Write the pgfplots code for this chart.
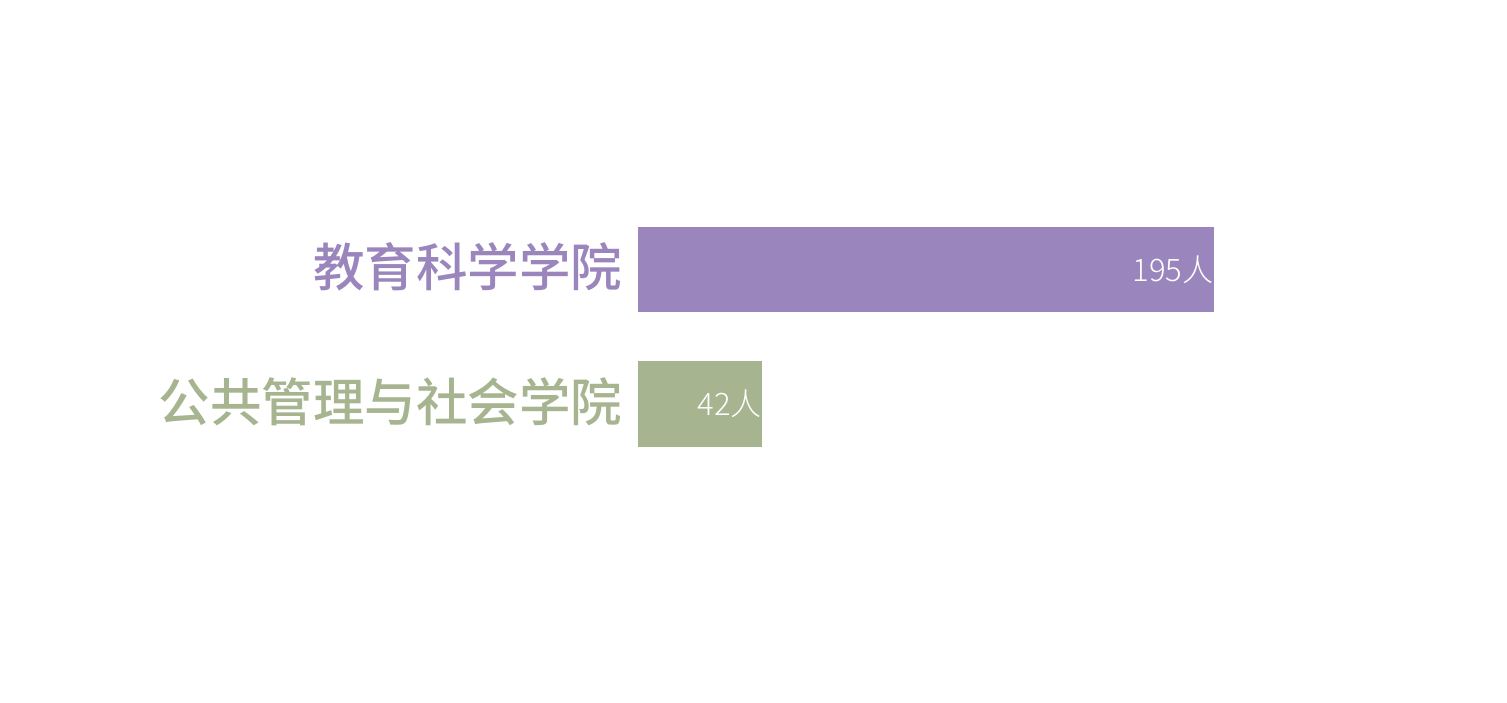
\documentclass[border=0pt]{standalone}
\usepackage{pgfplots}
\pgfplotsset{compat=1.18}
\usepackage{fontspec}
\newfontfamily\cjk{Noto Sans CJK SC Light}
\newfontfamily\cjkm{Noto Sans CJK SC Medium}
\definecolor{cpurple}{HTML}{9A86BD}
\definecolor{cgreen}{HTML}{A6B490}
% 1 px of the reference = 0.4pt
\begin{document}
\begin{tikzpicture}
\begin{axis}[
    scale only axis,
    width=602.8pt, height=281.2pt,
    xmin=-216, xmax=294.2,
    ymin=-2.223, ymax=3.004,
    axis line style={draw=none},
    xtick=\empty,
    ytick={0,1},
    yticklabels={{\color{cgreen}公共管理与社会学院},{\color{cpurple}教育科学学院}},
    yticklabel style={font=\cjkm\fontsize{20.6pt}{24pt}\selectfont,
        anchor=east, inner sep=0pt, xshift=249pt, yshift=1pt},
    major tick length=0pt,
    xbar, bar width=34.2pt, bar shift=0pt,
    point meta=x,
    /pgf/number format/assume math mode=true,
    nodes near coords={\pgfmathprintnumber{\pgfplotspointmeta}人},
    every node near coord/.append style={anchor=east, inner sep=0pt,
        xshift=0pt, text=white, font=\cjk\fontsize{12.4pt}{14pt}\selectfont},
]
\addplot[fill=cpurple, draw=none] coordinates {(195,1)};
\addplot[fill=cgreen, draw=none] coordinates {(42,0)};
\end{axis}
\end{tikzpicture}
\end{document}
